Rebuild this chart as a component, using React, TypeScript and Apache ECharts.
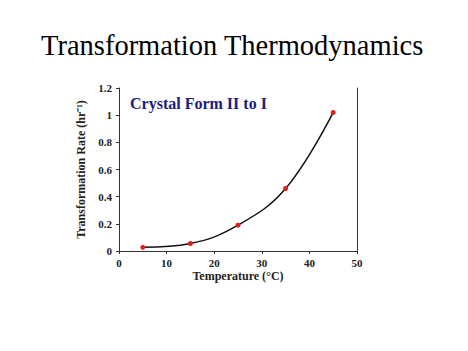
import React, { useEffect, useRef } from "react";
import * as echarts from "echarts";

const temps = [5, 15, 25, 35, 45];
const rates = [0.027, 0.055, 0.19, 0.46, 1.02];
const chartTitle = "Transformation Thermodynamics";
const seriesLabel = "Crystal Form II to I";
const xName = "Temperature (°C)";
const yName = "Transformation Rate (hr⁻¹)";

export default function App() {
  const ref = useRef<HTMLDivElement>(null);
  useEffect(() => {
    const chart = echarts.init(ref.current!, undefined, { renderer: "svg" });
    const tickFont = { fontFamily: "Liberation Serif", fontWeight: "bold", fontSize: 11, color: "#222" };
    chart.setOption({
      animation: false,
      backgroundColor: "#fff",
      title: {
        text: chartTitle,
        left: 36,
        top: 26,
        textStyle: { fontFamily: "Liberation Serif", fontWeight: "normal", fontSize: 28.5, color: "#000" },
      },
      grid: { left: 119, right: 111, top: 88, bottom: 100 },
      xAxis: {
        type: "value",
        min: 0,
        max: 50,
        interval: 10,
        name: xName,
        nameLocation: "middle",
        nameGap: 19,
        nameTextStyle: { ...tickFont, fontSize: 12 },
        axisLine: { lineStyle: { color: "#333", width: 1 } },
        axisTick: { show: true, length: 3, lineStyle: { color: "#333" } },
        axisLabel: { ...tickFont, margin: 6 },
        splitLine: { show: false },
      },
      yAxis: [
        {
          type: "value",
          min: 0,
          max: 1.2,
          interval: 0.2,
          name: yName,
          nameLocation: "middle",
          nameGap: 25,
          nameTextStyle: { ...tickFont, fontSize: 12 },
          axisLine: { show: true, lineStyle: { color: "#333", width: 1 } },
          axisTick: { show: true, length: 3, lineStyle: { color: "#333" } },
          axisLabel: { ...tickFont, margin: 7, formatter: (v: number) => String(Math.round(v * 10) / 10) },
          splitLine: { show: false },
        },
        {
          type: "value",
          min: 0,
          max: 1.2,
          position: "right",
          axisLine: { show: true, lineStyle: { color: "#333", width: 1 } },
          axisTick: { show: false },
          axisLabel: { show: false },
          splitLine: { show: false },
        },
      ],
      graphic: [
        {
          type: "text",
          left: 130,
          top: 95,
          style: {
            text: seriesLabel,
            fontFamily: "Liberation Serif",
            fontWeight: "bold",
            fontSize: 16,
            fill: "#1c1c7a",
          },
        },
      ],
      series: [
        {
          type: "line",
          data: temps.map((t, i) => [t, rates[i]]),
          smooth: 0.4,
          symbol: "circle",
          symbolSize: 5,
          lineStyle: { color: "#111", width: 1.5 },
          itemStyle: { color: "#e0201a" },
        },
      ],
    });
    return () => chart.dispose();
  }, []);
  return <div ref={ref} style={{ position: "fixed", left: 0, top: 0, width: 468, height: 351 }} />;
}
